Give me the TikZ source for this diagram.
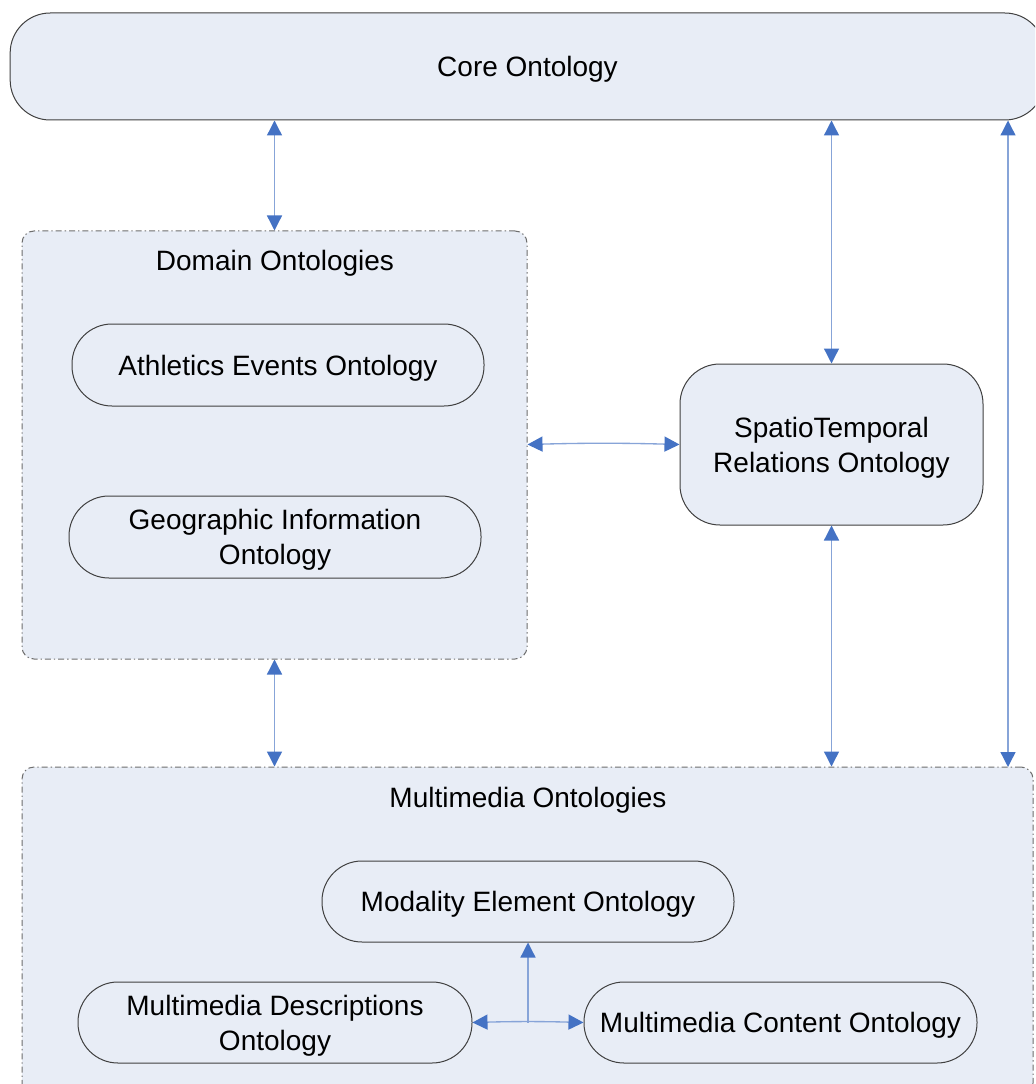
\documentclass[tikz,border=0pt]{standalone}
\usepackage{fontspec}
\setmainfont{Liberation Sans}
\usetikzlibrary{arrows.meta,calc}
\definecolor{boxfill}{RGB}{232,237,246}
\definecolor{boxline}{RGB}{64,64,64}
\definecolor{grpline}{RGB}{110,110,110}
\definecolor{tipblue}{RGB}{68,114,196}
\definecolor{linkblue}{RGB}{135,164,216}
\tikzset{
  onto/.style={draw=boxline, fill=boxfill, line width=0.75pt, rounded corners=30pt,
    align=center, inner sep=0pt, text depth=0pt, font=\fontsize{21}{26.25}\selectfont},
  group/.style={draw=grpline, fill=boxfill, line width=0.75pt, rounded corners=9pt,
    dash pattern=on 4.5pt off 2.25pt on 1pt off 2.25pt, inner sep=0pt},
  grouptitle/.style={font=\fontsize{21}{26.25}\selectfont, inner sep=0pt, text depth=0pt},
  link/.style={draw=linkblue, line width=1pt,
    {Triangle[length=11.25pt,width=11.25pt,color=tipblue]}-{Triangle[length=11.25pt,width=11.25pt,color=tipblue]}},
  uplink/.style={draw=linkblue, line width=1pt,
    -{Triangle[length=11.25pt,width=11.25pt,color=tipblue]}}
}
\begin{document}
\begin{tikzpicture}[x=0.75pt,y=-0.75pt]
\clip (0,0) rectangle (1035,1084);
\fill[white] (0,0) rectangle (1035,1084);

% top-level ontology
\node[onto, minimum width=776pt, minimum height=80.25pt] (core) at (527.5,66.5) {Core Ontology};

% domain group
\node[group, minimum width=378.75pt, minimum height=321pt] (dom) at (274.5,445) {};
\node[grouptitle] (domtitle) at (275,260) {Domain Ontologies};
\node[onto, minimum width=309pt, minimum height=61.5pt] (ath) at (278,365) {Athletics Events Ontology};
\node[onto, minimum width=309pt, minimum height=61.5pt] (geo) at (275,537) {Geographic Information\\Ontology};

% spatio-temporal relations
\node[onto, minimum width=227.25pt, minimum height=120.75pt] (st) at (831.5,444.5) {SpatioTemporal\\Relations Ontology};

% multimedia group
\node[group, minimum width=758.25pt, minimum height=246pt] (mm) at (527.5,931) {};
\node[grouptitle] (mmtitle) at (528,797) {Multimedia Ontologies};
\node[onto, minimum width=309pt, minimum height=60.75pt] (mod) at (528,901.5) {Modality Element Ontology};
\node[onto, minimum width=295.5pt, minimum height=60.75pt] (mmd) at (275,1022.5) {Multimedia Descriptions\\Ontology};
\node[onto, minimum width=294.75pt, minimum height=60.75pt] (mmc) at (780.5,1022.5) {Multimedia Content Ontology};

\coordinate (mmR) at (1008,767);
\coordinate (junc) at ($(mmd.east)!0.5!(mmc.west)$);

% connectors
\draw[link] (dom.north |- core.south) -- (dom.north);
\draw[link] (st.north |- core.south) -- (st.north);
\draw[link] (mmR |- core.south) -- (mmR);
\draw[link] (dom.south) -- (dom.south |- mm.north);
\draw[link] (st.south) -- (st.south |- mm.north);
\draw[link] (dom.east |- st.west) to[bend left=1.5] (st.west);
\draw[link] (mmd.east) to[bend left=1.5] (mmc.west);
\draw[uplink] (junc) -- (mod.south);
\end{tikzpicture}
\end{document}
